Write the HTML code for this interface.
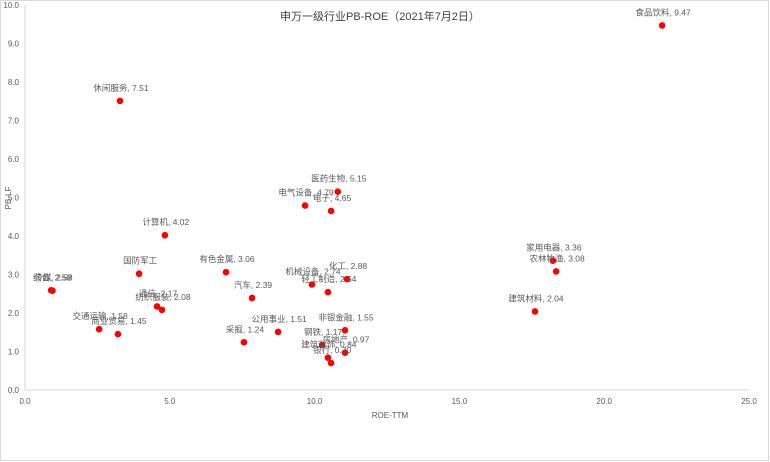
<!DOCTYPE html>
<html><head><meta charset="utf-8"><style>
html,body{margin:0;padding:0;background:#fff}
svg{display:block;font-family:"Liberation Sans","Noto Sans CJK SC",sans-serif}
</style></head><body>
<svg id="chart" width="770" height="462">
<rect x="0.5" y="0.5" width="768" height="460" fill="#fff" stroke="#d9d9d9"/>
<text x="380" y="20" text-anchor="middle" font-size="11" fill="#404040">申万一级行业PB-ROE（2021年7月2日）</text>
<text x="390" y="418" text-anchor="middle" font-size="8" fill="#595959">ROE-TTM</text>
<text transform="translate(11,198) rotate(-90)" text-anchor="middle" font-size="8" fill="#595959">PB-LF</text>
<g id="axes"></g><g id="points"></g>
</svg>
<script>
const names=["食品饮料","休闲服务","医药生物","电气设备","电子","计算机","家用电器","农林牧渔","国防军工","有色金属","化工","机械设备","轻工制造","传媒","综合","汽车","通信","纺织服装","建筑材料","交通运输","非银金融","公用事业","商业贸易","采掘","钢铁","房地产","建筑装饰","银行"];
const roe=[22.0,3.28,10.8,9.67,10.57,4.83,18.23,18.34,3.94,6.94,11.12,9.91,10.46,0.95,0.9,7.84,4.56,4.73,17.61,2.56,11.05,8.74,3.21,7.56,10.26,11.05,10.46,10.57];
const pb=[9.47,7.51,5.15,4.79,4.65,4.02,3.36,3.08,3.02,3.06,2.88,2.74,2.54,2.58,2.59,2.39,2.17,2.08,2.04,1.58,1.55,1.51,1.45,1.24,1.17,0.97,0.84,0.70];
const showVal=[1,1,1,1,1,1,1,1,0,1,1,1,1,1,1,1,1,1,1,1,1,1,1,1,1,1,1,1];
const xTicks=[0,5,10,15,20,25];
const yTicks=[0,1,2,3,4,5,6,7,8,9,10];
const NS="http://www.w3.org/2000/svg";
const X=v=>25+v*28.96, Y=v=>390-v*38.5;
const ax=document.getElementById('axes'), pts=document.getElementById('points');
function mk(t,a,p){const e=document.createElementNS(NS,t);for(const k in a)e.setAttribute(k,a[k]);p.appendChild(e);return e;}
const xl=mk('line',{x1:X(0),x2:X(25),y1:Y(0),y2:Y(0),stroke:'#d9d9d9'},ax);


const yl=mk('line',{x1:X(0),x2:X(0),y1:Y(0),y2:Y(10),stroke:'#d9d9d9'},ax);


xTicks.forEach(v=>{const t=mk('text',{x:X(v),y:404,'text-anchor':'middle','font-size':8,fill:'#595959'},ax);t.textContent=v.toFixed(1);

});
yTicks.forEach(v=>{const t=mk('text',{x:19,y:Y(v)+3,'text-anchor':'end','font-size':8,fill:'#595959'},ax);t.textContent=v.toFixed(1);

});
names.forEach((n,i)=>{
const c=mk('circle',{cx:X(roe[i]),cy:Y(pb[i]),r:3.3,fill:'#ff0000'},pts);


const t=mk('text',{x:X(roe[i])+1,y:Y(pb[i])-10,'text-anchor':'middle','font-size':8.5,fill:'#595959'},pts);
t.textContent=showVal[i]?n+", "+pb[i].toFixed(2):n;


});
</script>
</body></html>
